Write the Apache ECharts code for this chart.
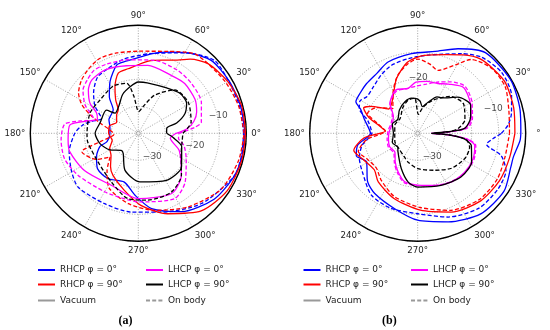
<!DOCTYPE html>
<html><head><meta charset="utf-8">
<script src="https://cdn.jsdelivr.net/npm/echarts@6/dist/echarts.min.js"></script>
<style>html,body{margin:0;padding:0;background:#fff}#c{width:550px;height:330px}</style>
</head><body><div id="c"></div>
<script>
// ---- data: [angle in degrees, gain in dB] ----
// (a)
const rhcp0VacA  = [[0,-0.5],[15,-0.8],[30,-1.2],[45,-1.8],[58,-4.9],[70,-8],[80,-10],[90,-12],[101,-13],[107.6,-13.5],[118.7,-18.2],[128.3,-22.7],[137,-27.3],[145,-27.8],[155,-28],[167,-29.2],[180,-29.5],[195,-28],[199,-25],[209,-22.3],[221,-20],[236,-19.8],[254,-21.2],[267,-17],[280,-11.7],[299,-6.8],[319,-2.8],[335,-1.2],[346,-0.7]];
const rhcp0BodyA = [[0,-1],[15,-1.2],[30,-1.4],[44,-1],[60,-5.6],[81,-10.1],[101,-12],[115,-13.5],[126,-14.3],[138,-17.7],[148,-21.1],[158,-25.3],[166,-22],[172,-19],[180,-16.5],[195,-13.5],[210,-11.5],[222,-10.1],[244,-11.1],[265,-10.7],[286,-9.6],[312,-5],[336,-1.1],[348,-0.9]];
const rhcp90VacA = [[0,-0.3],[15,-0.4],[30,-1.7],[45,-3.5],[55,-6.5],[62,-9.3],[72,-11.5],[82,-13],[99,-15.8],[108.4,-16.5],[116.6,-20.7],[124,-25],[130.6,-28.6],[140,-29.5],[153,-31],[165,-29],[180,-29],[195,-30],[208,-28],[219,-27],[230,-24],[239,-21.8],[256,-18.3],[272,-13.3],[290,-8.3],[309,-3],[327,-0.8],[345,-0.4]];
const rhcp90BodyA= [[0,-0.8],[15,-1.5],[30,-2.5],[45,-3.5],[55,-4],[70,-7.7],[90,-9.6],[105,-9.2],[117,-8.8],[127,-9.8],[137,-11.2],[146,-13.3],[153,-16.5],[159,-20.9],[165,-25.3],[172,-29],[182,-31],[192,-26],[198,-18],[212,-21.7],[220,-26.4],[230,-22],[242,-17],[262,-13.7],[282,-10.8],[304,-7.1],[326,-3],[345,-1.5]];
const lhcp0VacA  = [[0,-26],[5,-22],[12,-19],[20,-17],[31,-15.5],[47,-14.8],[60,-15.3],[82,-14.6],[100,-14.6],[118,-13.5],[131,-13.8],[139,-15.5],[148,-18.9],[154,-22.8],[161,-24],[166,-21],[173,-14.5],[185,-13.9],[195,-13.7],[215,-15.8],[243,-18.3],[270,-15.8],[299,-14.5],[316,-17.8],[337,-23.5],[351,-28]];
const lhcp0BodyA = [[0,-25],[6,-19],[10,-16.3],[26,-14],[43,-13],[58,-12.5],[77,-12.3],[98,-12.5],[115,-11.8],[125,-11.5],[134,-12.7],[142,-14],[152,-17.7],[158.6,-21.5],[163,-23],[168,-18],[173,-12.5],[185,-11.3],[199,-11.1],[215,-12.8],[240,-15],[255,-15.3],[270,-14.6],[299,-12.3],[314,-15],[332,-19.9],[345,-22.5],[353,-25]];
const lhcp90VacA = [[0,-29.5],[10,-29.3],[15,-25.3],[23,-21.2],[32,-18.9],[44,-18.6],[58,-20.2],[80,-21],[90,-21],[100,-22.5],[112,-24.5],[125,-27.5],[139,-28.6],[144,-25.4],[165,-25.3],[180,-24],[195,-25.3],[210,-27.8],[225,-31],[233,-30.7],[250,-25.5],[272,-22],[301,-19.7],[322,-19.7],[343,-23.2],[353,-27]];
const lhcp90BodyA= [[0,-23.5],[12,-20],[32,-18.2],[50,-19],[67,-24.7],[80,-30],[89,-32],[97,-26],[103,-21],[118,-20.2],[139,-21.2],[157,-20.6],[180,-21],[190,-21],[215,-21.7],[241,-19.4],[261,-15.5],[278,-15],[299,-15],[316,-17.8],[336,-22.6],[350,-23.5]];
// (b)
const rhcp0VacB  = [[0,-1.8],[13,-1.1],[30,-0.3],[50,-1],[64.5,-5.3],[78,-9],[94.5,-10.4],[112.6,-11.4],[124,-13.1],[136,-13.6],[145,-14],[153,-14.3],[157,-17],[165,-19.5],[180,-22.5],[191,-17.4],[200,-15.8],[209,-18.3],[224,-14.2],[234.5,-12.6],[253,-10.8],[270,-7.8],[289,-5.3],[308,-2.1],[326,-1.5],[340,-3.3],[346,-3.5],[356,-2]];
const rhcp0BodyB = [[0,-9],[5,-6.5],[12,-4.5],[22,-2.5],[36,-1.6],[50,-3.2],[61,-6.3],[82.5,-10.8],[97,-12.1],[111,-13],[122,-14.5],[133.5,-16.2],[144,-16.8],[151,-15.5],[157,-16.5],[166,-21],[180,-23],[192,-19],[203,-16.5],[215,-15],[233,-11.4],[250,-10.5],[270,-10.2],[290,-7],[309,-4.2],[325,-3.8],[337,-4.5],[345,-8],[351,-14.2],[356,-12]];
const rhcp90VacB = [[0,-4],[15,-3.2],[30,-2.5],[40,-3.2],[50,-4],[60,-6.5],[70,-9],[85,-11],[98,-13.3],[111,-18.2],[121,-22.7],[131,-25.3],[140,-26],[150,-20],[155,-17.9],[162,-21],[170,-26],[176,-28],[185,-20],[195,-15.5],[205,-17.5],[220,-19],[231,-16.8],[250,-14.3],[272,-11.5],[293,-8.3],[313,-5.8],[330,-5],[345,-4.8]];
const rhcp90BodyB= [[0,-6],[14,-5.2],[28,-3.3],[41,-3.5],[54,-6.2],[61,-11],[72,-15.5],[80,-14],[90,-12.5],[98,-14],[109,-17.3],[122,-22.7],[135,-27],[148,-22],[158,-20],[167,-25],[176,-28],[187,-21],[197,-17],[207,-19],[220,-20],[232,-18],[250,-15],[272,-12.5],[293,-9],[313,-6.5],[330,-6],[345,-6.5]];
const lhcp0VacB  = [[0,-35],[3,-28],[6,-22.5],[15,-19.5],[30,-17.5],[45,-16],[58,-18.5],[68,-20.1],[80,-20.5],[92,-21],[102,-23],[117,-22],[133,-24.9],[145,-29],[160,-30],[175,-29.5],[190,-29],[205,-28.5],[220,-29],[232,-26.5],[243,-24],[255,-21.4],[274,-20.7],[290,-19.5],[305,-18],[320,-17.4],[335,-17.4],[348,-18.4],[353,-21.5],[357,-28.6]];
const lhcp0BodyB = [[0,-34],[3,-27],[6,-21.5],[15,-19],[30,-16.8],[45,-15.3],[58,-17.5],[68,-19.5],[80,-21.5],[92,-22.5],[105,-23],[117,-22.5],[133,-25],[145,-28.5],[160,-29.5],[175,-29],[190,-28.5],[205,-28],[220,-28.5],[232,-26],[243,-23.5],[255,-21],[274,-20.5],[290,-19.5],[305,-18.2],[320,-17.2],[335,-17],[348,-18],[353,-21],[357,-28]];
const lhcp90VacB = [[0,-35],[3,-29],[6,-22.5],[17,-19.5],[28,-17.8],[42,-20],[55,-24],[62,-24.7],[72,-28],[80,-30],[86,-28],[94,-27],[100,-26.8],[112,-27.4],[128,-29],[145,-31],[160,-30],[180,-31],[200,-30],[215,-31],[223,-30],[245,-25.6],[259,-21.6],[270,-20.1],[294,-18.9],[315,-17.2],[332,-17.4],[347,-19.6],[353,-22.6],[357,-28.6]];
const lhcp90BodyB= [[0,-34],[3,-28],[7,-24.8],[16,-21.8],[33,-19.8],[49,-21.9],[65,-26.4],[78,-30],[88,-33],[95,-27],[106,-27.2],[120,-29],[140,-31.5],[160,-31],[180,-31.5],[200,-31],[220,-31],[240,-30],[251,-28.8],[270,-26.9],[295,-24.9],[314,-22],[332,-20.2],[345,-20.1],[353,-22],[357,-28]];

const radialTickLabels = ['−30','−20','−10'];
const radialLabelSpotsA = [[-29.9,301],[-18.5,347.4],[-9.7,12.6]];   // [dB, angle]
const radialLabelSpotsB = [[-29.8,302],[-19.3,89.4],[-10.6,17.8]];
const legendNames = ['RHCP φ = 0°','RHCP φ = 90°','Vacuum','LHCP φ = 0°','LHCP φ = 90°','On body'];
const panelLabels = ['a','b'];

const FONT = 'DejaVu Sans';
const BLUE='#0000ff', RED='#ff0000', MAG='#ff00ff', BLK='#000000', GRAY='#999999';

function closed(pts){ const d = pts.map(p=>[p[1],p[0]]); d.push([pts[0][1],360]); return d; }
function curve(name, pts, color, dashed, pi, z){
  return {type:'line', name, coordinateSystem:'polar', polarIndex:pi, data:closed(pts),
    symbol:'none', smooth:0.25, silent:true, z:z,
    lineStyle:{color, width:1.3, type: dashed ? [4,2.2] : 'solid'}, itemStyle:{color}};
}
const series = [];
const sets = [
  [rhcp0VacA, rhcp0BodyA, rhcp90VacA, rhcp90BodyA, lhcp0VacA, lhcp0BodyA, lhcp90VacA, lhcp90BodyA],
  [rhcp0VacB, rhcp0BodyB, rhcp90VacB, rhcp90BodyB, lhcp0VacB, lhcp0BodyB, lhcp90VacB, lhcp90BodyB]
];
const colors = [BLUE, BLUE, RED, RED, MAG, MAG, BLK, BLK];
const nm = ['RHCP φ = 0°','RHCP φ = 0° (on body)','RHCP φ = 90°','RHCP φ = 90° (on body)','LHCP φ = 0°','LHCP φ = 0° (on body)','LHCP φ = 90°','LHCP φ = 90° (on body)'];
sets.forEach((s,pi)=>{
  s.forEach((pts,i)=>{ series.push(curve(nm[i], pts, colors[i], i%2===1, pi, 3+i)); });
});
series.push({type:'line', name:'Vacuum', coordinateSystem:'polar', polarIndex:0, data:[], symbol:'none', lineStyle:{color:GRAY,width:1.3}, itemStyle:{color:GRAY}});
series.push({type:'line', name:'On body', coordinateSystem:'polar', polarIndex:0, data:[], symbol:'none', lineStyle:{color:GRAY,width:1.3,type:[4,2.2]}, itemStyle:{color:GRAY}});
[radialLabelSpotsA, radialLabelSpotsB].forEach((spots,pi)=>{
  series.push({type:'scatter', coordinateSystem:'polar', polarIndex:pi, silent:true, z:20,
    symbolSize:1, itemStyle:{color:'rgba(0,0,0,0)'},
    data: spots.map((p,i)=>({value:[p[0],p[1]], name:radialTickLabels[i]})),
    label:{show:true, position:'inside', formatter:'{b}', color:'#222', fontSize:9, fontFamily:FONT}});
  series.push({type:'scatter', coordinateSystem:'polar', polarIndex:pi, silent:true, z:1,
    symbol:'circle', symbolSize:4, itemStyle:{color:'#fff', borderColor:'#777', borderWidth:0.8},
    data:[[-40,0]]});
});

function angleAxis(pi){
  return {polarIndex:pi, type:'value', min:0, max:360, interval:30, startAngle:0, clockwise:false,
    axisLine:{lineStyle:{color:'#000', width:1.4}}, axisTick:{show:false},
    splitLine:{show:true, lineStyle:{color:'#8a8a8a', width:0.8, type:[1,1.6]}},
    axisLabel:{margin:5, color:'#222', fontSize:8.6, fontFamily:FONT,
      formatter: v => (pi===1 && v===0) ? '{h|0}°' : v+'°',
      rich:{h:{color:'rgba(0,0,0,0)', fontSize:8.6, fontFamily:FONT}}}};
}
function radiusAxis(pi){
  return {polarIndex:pi, type:'value', min:-40, max:0, interval:10,
    axisLine:{show:false}, axisTick:{show:false}, axisLabel:{show:false},
    splitLine:{show:true, lineStyle:{color:'#8a8a8a', width:0.8, type:[1,1.6]}}};
}

const legendX = [[37,145],[302.5,410]];
const rowY = [270,284.5,300.5];
const legends = [];
for (let p=0;p<2;p++){
  legendNames.forEach((n,i)=>{
    const col = Math.floor(i/3), row = i%3;
    legends.push({data:[n], left:legendX[p][col], top:rowY[row]-5, padding:0, itemGap:0,
      itemWidth:17, itemHeight:10, selectedMode:false,
      itemStyle:{color:'rgba(0,0,0,0)', borderWidth:0, opacity:0},
      textStyle:{fontSize:9, color:'#222', fontFamily:FONT, lineHeight:10}});
  });
}

const titles = panelLabels.map((t,i)=>({
  text:'{p|(}{b|'+t+'}{p|)}', left:[118.5,382][i], top:315, padding:0,
  textStyle:{rich:{p:{fontFamily:'Liberation Serif', fontSize:12, color:'#000'},
                   b:{fontFamily:'Liberation Serif', fontSize:12, fontWeight:'bold', color:'#000'}}}
}));

const chart = echarts.init(document.getElementById('c'), null, {renderer:'canvas'});
chart.setOption({
  animation:false,
  backgroundColor:'#fff',
  title: titles,
  legend: legends,
  polar:[{center:[138.3,133.3], radius:108},{center:[417.7,133.3], radius:108}],
  angleAxis:[angleAxis(0), angleAxis(1)],
  radiusAxis:[radiusAxis(0), radiusAxis(1)],
  series
});
</script></body></html>
